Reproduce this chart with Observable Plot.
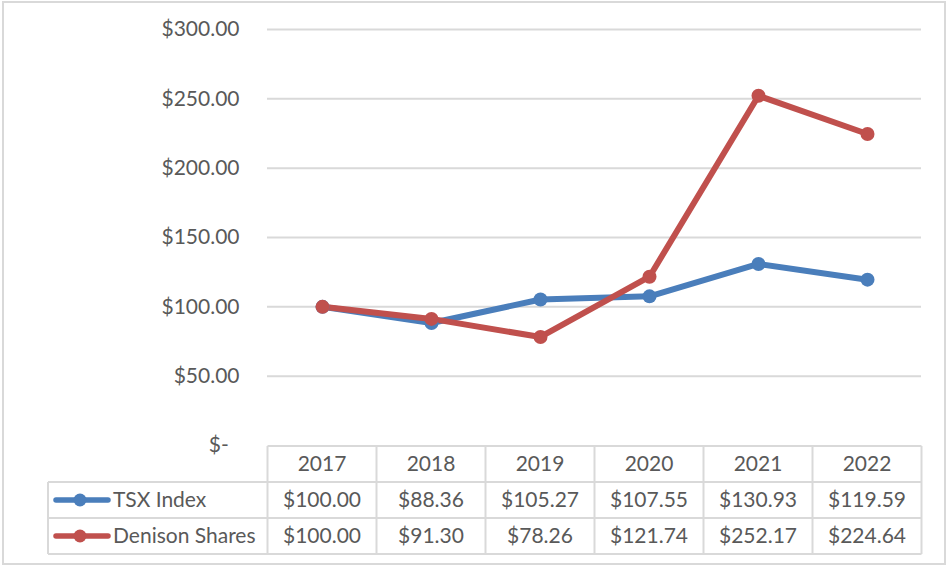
<!DOCTYPE html>
<html>
<head>
<meta charset="utf-8">
<script src="https://cdn.jsdelivr.net/npm/d3@7"></script>
<script src="https://cdn.jsdelivr.net/npm/@observablehq/plot@0.6"></script>
<style>
  body { margin: 0; background: #fff; }
  #wrap { position: relative; width: 951px; height: 570px; overflow: hidden; }
  #border { position: absolute; left: 2px; top: 1px; width: 944px; height: 564px; border: 2px solid #d9d9d9; box-sizing: border-box; pointer-events: none; }
  svg { font-family: Lato, "Open Sans", sans-serif; }
</style>
</head>
<body>
<div id="wrap"><div id="border"></div></div>
<script>
const years = ["2017", "2018", "2019", "2020", "2021", "2022"];
const tsxValues = [100.00, 88.36, 105.27, 107.55, 130.93, 119.59];
const denisonValues = [100.00, 91.30, 78.26, 121.74, 252.17, 224.64];
const seriesNames = ["TSX Index", "Denison Shares"];
const seriesColors = ["#4A7EBB", "#C0504D"];
const yTicks = [0, 50, 100, 150, 200, 250, 300];

const seriesValues = [tsxValues, denisonValues];
const data = seriesNames.flatMap((s, si) =>
  years.map((year, i) => ({ series: s, year, value: seriesValues[si][i] }))
);

const money = v => "$" + v.toFixed(2);
const axisFmt = v => v === 0 ? "$-\u00a0\u00a0" : money(v);

const textColor = "#595959";
const lineColor = "#d9d9d9";
const fontSize = 21;

function tableMark(index, scales, values, dims) {
  const x = scales.x;
  const step = x(years[1]) - x(years[0]);
  const top = dims.height - dims.marginBottom + 1;
  const rowH = 36;
  const legendLeft = 48;
  const left = x(years[0]) - step / 2;
  const right = x(years[years.length - 1]) + step / 2;
  const g = d3.create("svg:g");
  const lines = g.append("g").attr("stroke", lineColor).attr("stroke-width", 2);
  lines.append("line").attr("x1", left).attr("x2", right).attr("y1", top).attr("y2", top);
  for (let r = 1; r <= seriesNames.length + 1; r++) {
    lines.append("line").attr("x1", legendLeft).attr("x2", right)
      .attr("y1", top + r * rowH).attr("y2", top + r * rowH);
  }
  lines.append("line").attr("x1", legendLeft).attr("x2", legendLeft)
    .attr("y1", top + rowH).attr("y2", top + (seriesNames.length + 1) * rowH);
  for (let i = 0; i <= years.length; i++) {
    const xx = left + i * step;
    lines.append("line").attr("x1", xx).attr("x2", xx)
      .attr("y1", top).attr("y2", top + (seriesNames.length + 1) * rowH);
  }
  const txt = g.append("g").attr("fill", textColor).attr("font-size", fontSize)
    .attr("font-family", "Lato, 'Open Sans', sans-serif");
  years.forEach(y => {
    txt.append("text").attr("x", x(y)).attr("y", top + rowH / 2)
      .attr("text-anchor", "middle").attr("dy", "0.35em").text(y);
  });
  seriesNames.forEach((s, si) => {
    const cy = top + rowH * (si + 1) + rowH / 2;
    g.append("line").attr("x1", 56).attr("x2", 108).attr("y1", cy).attr("y2", cy)
      .attr("stroke", seriesColors[si]).attr("stroke-width", 5.5).attr("stroke-linecap", "round");
    g.append("circle").attr("cx", 80).attr("cy", cy).attr("r", 6.5).attr("fill", seriesColors[si]);
    txt.append("text").attr("x", 113).attr("y", cy).attr("dy", "0.35em")
      .attr("text-anchor", "start").text(s);
    years.forEach((y, i) => {
      txt.append("text").attr("x", x(y)).attr("y", cy)
        .attr("text-anchor", "middle").attr("dy", "0.35em").text(money(seriesValues[si][i]));
    });
  });
  return g.node();
}

const chart = Plot.plot({
  width: 951,
  height: 570,
  marginLeft: 267,
  marginRight: 30,
  marginTop: 29,
  marginBottom: 125,
  style: { fontSize: fontSize + "px", fontFamily: "Lato, 'Open Sans', sans-serif", color: textColor, background: "transparent" },
  x: { type: "point", domain: years, padding: 0.5, axis: null },
  y: { domain: [0, 300], axis: null },
  color: { domain: seriesNames, range: seriesColors },
  marks: [
    Plot.ruleY(yTicks.filter(v => v > 0), { stroke: lineColor, strokeWidth: 2 }),
    Plot.axisY(yTicks, { tickSize: 0, tickPadding: 28, tickFormat: axisFmt, fill: textColor, fontSize: fontSize, label: null }),
    Plot.line(data, { x: "year", y: "value", z: "series", stroke: "series", strokeWidth: 6, strokeLinejoin: "round" }),
    Plot.dot(data, { x: "year", y: "value", fill: "series", r: 7 }),
    tableMark
  ]
});
document.getElementById("wrap").appendChild(chart);
</script>
</body>
</html>
